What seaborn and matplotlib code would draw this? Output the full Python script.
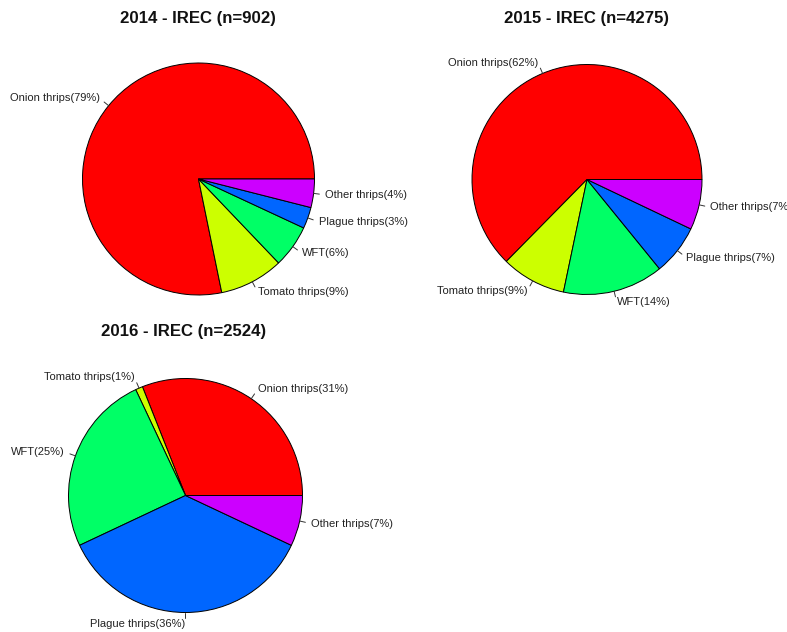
import numpy as np
import matplotlib
matplotlib.use("Agg")
import matplotlib.pyplot as plt
import seaborn as sns

# ---- data ----
categories = ["Onion thrips", "Tomato thrips", "WFT", "Plague thrips", "Other thrips"]
titles = ["2014 - IREC (n=902)", "2015 - IREC (n=4275)", "2016 - IREC (n=2524)"]
pct_2014 = [79, 9, 6, 3, 4]
pct_2015 = [62, 9, 14, 7, 7]
pct_2016 = [31, 1, 25, 36, 7]
colors = sns.color_palette(["#FF0000", "#CCFF00", "#00FF66", "#0066FF", "#CC00FF"])

sns.set_theme(style="white")
plt.rcParams["font.family"] = ["Liberation Sans", "DejaVu Sans"]

W, H = 787, 632
fig = plt.figure(figsize=(W / 100, H / 100), dpi=100)
fig.patch.set_facecolor("white")

# layout (pixels): pie centre, radius, title centre x, title baseline y
panels = [
    (pct_2014, titles[0], (198.5, 179.0), 116, (198, 23.5)),
    (pct_2015, titles[1], (587.0, 179.5), 115, (586, 23.5)),
    (pct_2016, titles[2], (185.5, 495.5), 117, (184, 336.0)),
]

half = 160
for vals, title, (cx, cy), r, (tx, ty) in panels:
    ax = fig.add_axes([(cx - half) / W, 1 - (cy + half) / H, 2 * half / W, 2 * half / H])
    ax.pie(vals, colors=colors, startangle=0, counterclock=True, radius=1,
           wedgeprops=dict(edgecolor="black", linewidth=0.7))
    lim = half / r
    ax.set_xlim(-lim, lim)
    ax.set_ylim(-lim, lim)
    ax.set_aspect("equal")
    ax.axis("off")
    total = float(sum(vals))
    cum = 0.0
    for name, v in zip(categories, vals):
        mid = 2 * np.pi * (cum + v / 2) / total
        cum += v
        c, s = np.cos(mid), np.sin(mid)
        ax.plot([c, 1.05 * c], [s, 1.05 * s], color="#333333", lw=0.7, clip_on=False)
        ax.text(1.1 * c, 1.1 * s, f"{name}({v}%)", ha="left" if c >= 0 else "right",
                va="center", fontsize=8, color="#222222", clip_on=False)
    fig.text(tx / W, 1 - ty / H, title, ha="center", va="baseline",
             fontsize=12.1, fontweight="bold", color="#111111")

fig.savefig("out.png", dpi=100, facecolor="white")
